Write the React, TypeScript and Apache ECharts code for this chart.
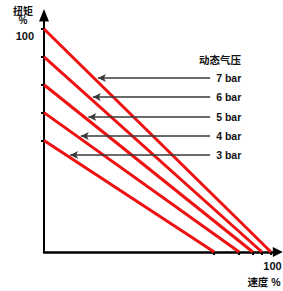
import React, { useEffect, useRef } from "react";
import * as echarts from "echarts";

// Data
const pressureNames = ["7 bar", "6 bar", "5 bar", "4 bar", "3 bar"];
const torqueAtZeroSpeed = [100, 87.5, 75, 62.5, 50];
const speedAtZeroTorque = [100, 96, 92, 86, 75];
const arrowTorque = [78, 69.5, 60.5, 52, 43.5];
const arrowTailSpeed = 73.2;
const yTickValues = [50, 62.5, 75, 87.5, 100];
const xTickValues = [75, 86, 92, 96, 100];
const axisLabelValues = [100];
const X_MAX = 103;
const Y_MAX = 106;

const FONT = "'Liberation Sans', Arial, 'Noto Sans CJK SC', sans-serif";

export default function App() {
  const ref = useRef<HTMLDivElement>(null);

  useEffect(() => {
    document.body.style.margin = "0";
    if (!ref.current) return;
    const chart = echarts.init(ref.current, null, { renderer: "svg" });

    const gridLeft = 44;
    const gridRight = 5.2;
    const gridWidth = 283 - gridLeft - gridRight;
    const pxPerX = gridWidth / X_MAX;
    const arrowLenPx = 8;
    const tipOffset = arrowLenPx / 2 / pxPerX;

    const series: any[] = pressureNames.map((name, i) => {
      const t0 = torqueAtZeroSpeed[i];
      const s0 = speedAtZeroTorque[i];
      const ta = arrowTorque[i];
      const tip = s0 * (1 - ta / t0) + tipOffset;
      return {
        name,
        type: "line",
        data: [
          [0, t0],
          [s0, 0],
        ],
        symbol: "none",
        clip: false,
        lineStyle: { color: "#ee1111", width: 3 },
        z: 3,
        markLine: {
          silent: true,
          symbol: ["arrow", "none"],
          symbolSize: [6, arrowLenPx],
          lineStyle: { color: "#3a3a3a", width: 1.5, type: "solid" },
          label: {
            show: true,
            position: "end",
            distance: 6,
            formatter: name,
            color: "#111",
            fontWeight: "bold",
            fontSize: 10.5,
            fontFamily: FONT,
          },
          data: [
            [
              { coord: [tip, ta] },
              { coord: [arrowTailSpeed, ta] },
            ],
          ],
        },
      };
    });

    chart.setOption({
      animation: false,
      grid: {
        left: gridLeft,
        right: gridRight,
        top: 15.6,
        bottom: 39,
        containLabel: false,
        outerBoundsMode: "none",
      },
      xAxis: {
        type: "value",
        min: 0,
        max: X_MAX,
        splitLine: { show: false },
        axisLine: { show: true, lineStyle: { color: "#000", width: 2.5 } },
        axisTick: {
          show: true,
          customValues: xTickValues,
          length: 3,
          lineStyle: { color: "#000", width: 2 },
        },
        axisLabel: {
          show: true,
          customValues: axisLabelValues,
          margin: 8,
          color: "#111",
          fontWeight: "bold",
          fontSize: 11,
          fontFamily: FONT,
          padding: [0, 0, 0, 3],
        },
      },
      yAxis: {
        type: "value",
        min: 0,
        max: Y_MAX,
        splitLine: { show: false },
        axisLine: { show: true, lineStyle: { color: "#000", width: 2 } },
        axisTick: {
          show: true,
          customValues: yTickValues,
          length: 3,
          lineStyle: { color: "#000", width: 2 },
        },
        axisLabel: {
          show: true,
          customValues: axisLabelValues,
          margin: 10,
          verticalAlign: "top",
          padding: [2, 0, 0, 0],
          color: "#111",
          fontWeight: "bold",
          fontSize: 11,
          fontFamily: FONT,
        },
      },
      series,
    });

    // axis arrowheads positioned from the axis scales
    const xEnd = chart.convertToPixel({ gridIndex: 0 }, [X_MAX, 0]) as number[];
    const yEnd = chart.convertToPixel({ gridIndex: 0 }, [0, Y_MAX]) as number[];
    const texts = [
      { x: 23, y: 11, text: "扭矩", size: 10 },
      { x: 23, y: 20.5, text: "%", size: 10 },
      { x: 220, y: 59.5, text: "动态气压", size: 10.5 },
      { x: 264, y: 282, text: "速度 %", size: 10.5 },
    ];
    chart.setOption({
      graphic: [
        {
          type: "polygon",
          z: 10,
          shape: {
            points: [
              [xEnd[0] + 5, xEnd[1]],
              [xEnd[0] - 5, xEnd[1] - 5],
              [xEnd[0] - 5, xEnd[1] + 5],
            ],
          },
          style: { fill: "#000" },
        },
        {
          type: "polygon",
          z: 10,
          shape: {
            points: [
              [yEnd[0], yEnd[1] - 6.5],
              [yEnd[0] - 5, yEnd[1] + 6],
              [yEnd[0] + 5, yEnd[1] + 6],
            ],
          },
          style: { fill: "#000" },
        },
        ...texts.map((t) => ({
          type: "text",
          x: t.x,
          y: t.y,
          style: {
            text: t.text,
            fill: "#111",
            font: `bold ${t.size}px ${FONT}`,
            align: "center",
            verticalAlign: "middle",
          },
        })),
      ],
    });

    return () => chart.dispose();
  }, []);

  return <div ref={ref} style={{ width: 283, height: 291 }} />;
}
